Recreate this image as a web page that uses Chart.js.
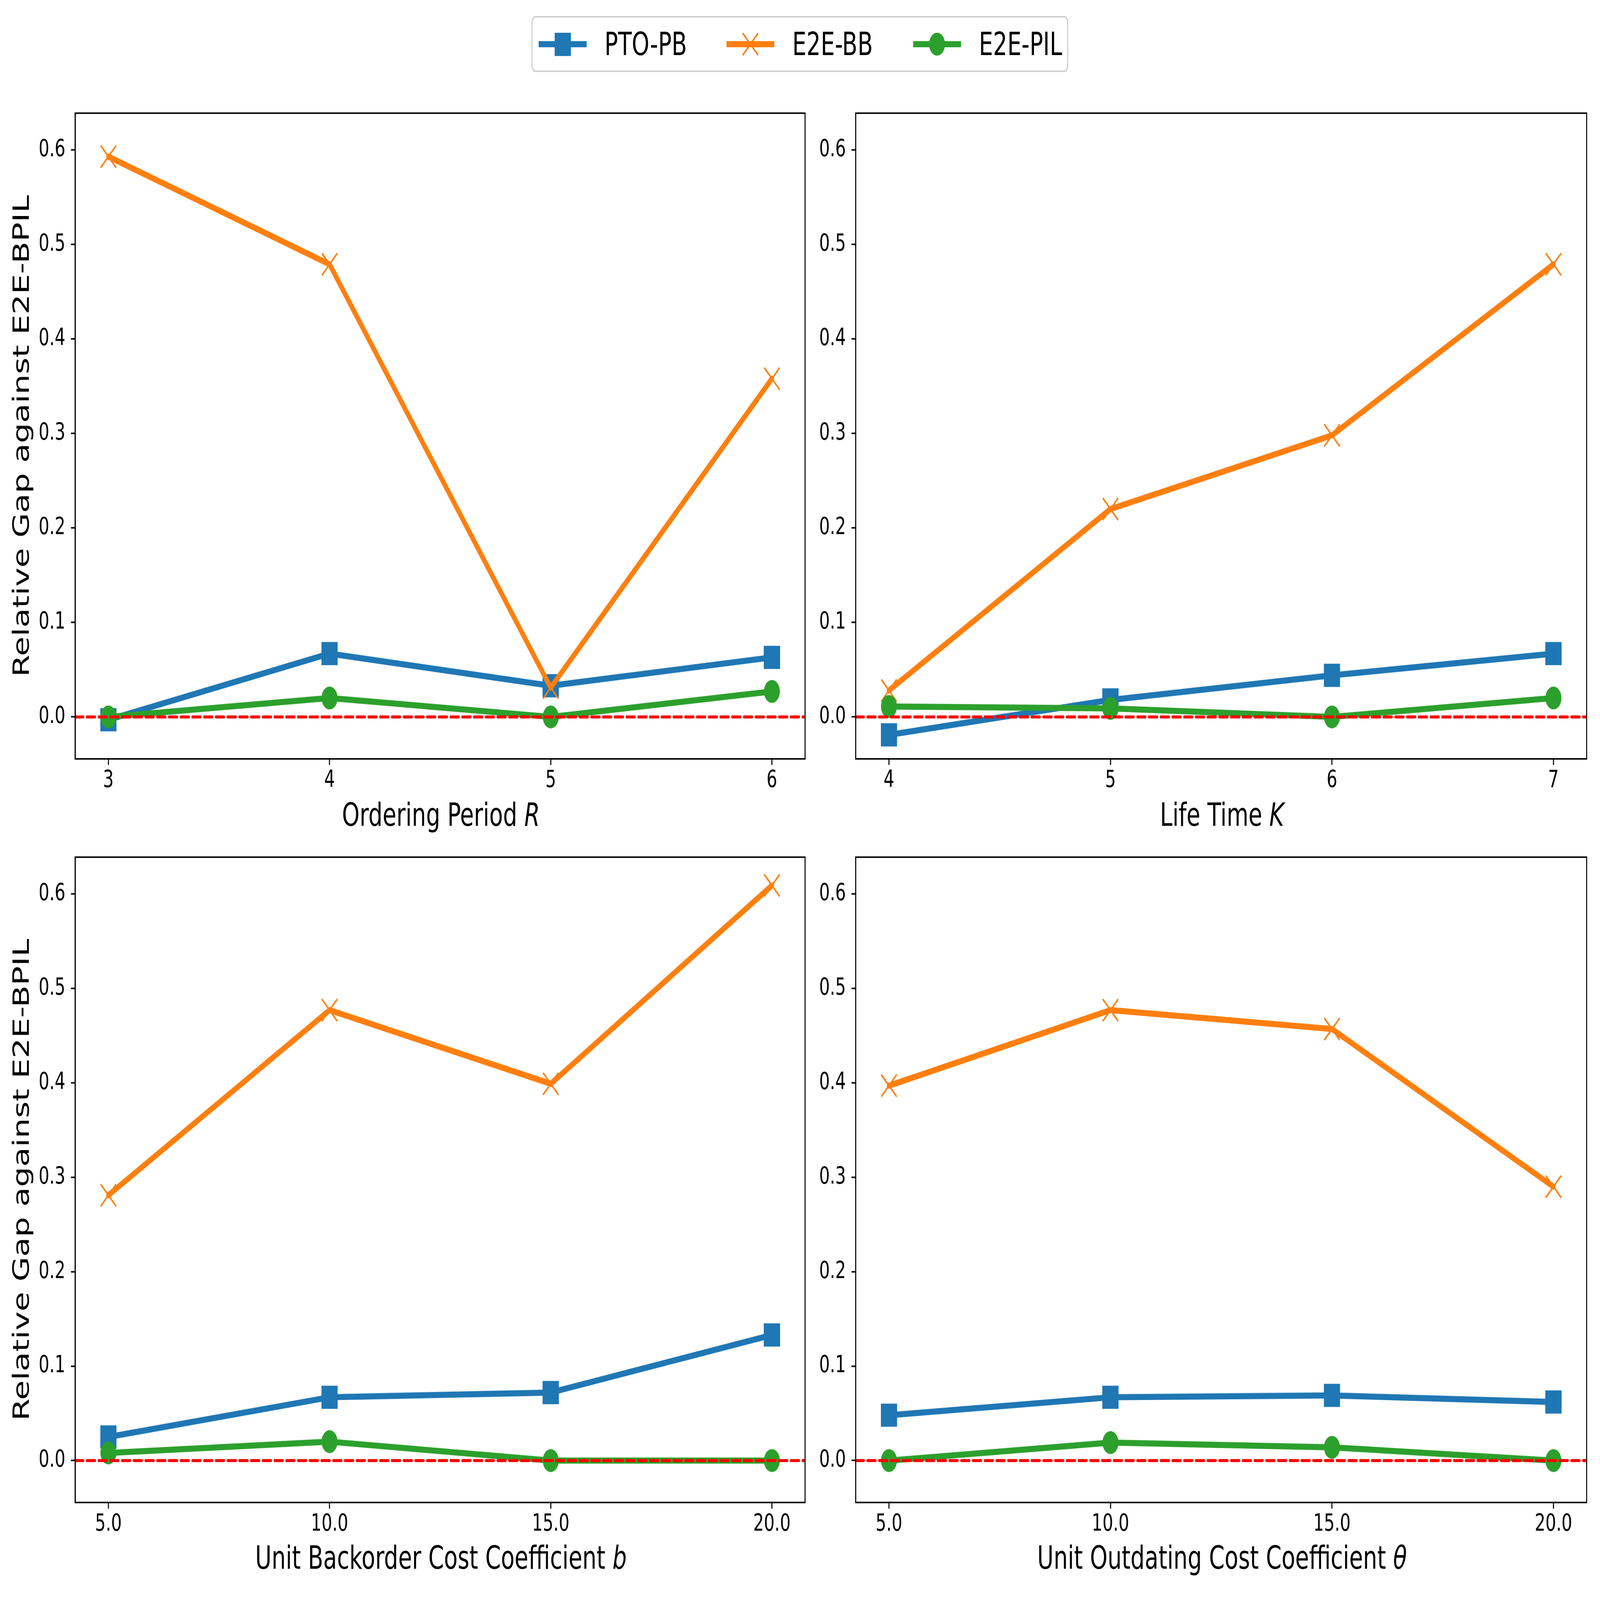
<!DOCTYPE html>
<html>
<head>
<meta charset="utf-8">
<script src="https://cdn.jsdelivr.net/npm/chart.js@4.4.1/dist/chart.umd.min.js"></script>
<style>
  body { margin: 0; background: #fff; overflow: hidden; }
  #page { position: relative; width: 6000px; height: 4200px; background: #fff; font-family: "DejaVu Sans"; color: #000; transform-origin: 0 0; }
  canvas { position: absolute; }
  .xtitle { position: absolute; font-size: 84px; line-height: 84px; text-align: center; white-space: nowrap; }
  #legend { position: absolute; left: 1993px; top: 42px; width: 2005px; height: 139px;
            border: 4px solid #cccccc; border-radius: 16px; background: #fff; }
  .item { position: absolute; top: 0; height: 139px; display: flex; align-items: center; font-size: 84px; white-space: nowrap; }
  .item svg { margin-right: 67px; }
</style>
</head>
<body>
<div id="page">
  <div id="legend">
    <div class="item" style="left:23px">
      <svg width="180" height="70"><line x1="0" y1="35" x2="180" y2="35" stroke="#1f77b4" stroke-width="16"/><rect x="60" y="5" width="61" height="61" fill="#1f77b4"/></svg>PTO-PB
    </div>
    <div class="item" style="left:727px">
      <svg width="180" height="70"><line x1="0" y1="35" x2="180" y2="35" stroke="#ff7f0e" stroke-width="16"/><line x1="61" y1="6" x2="119" y2="64" stroke="#ff7f0e" stroke-width="5"/><line x1="119" y1="6" x2="61" y2="64" stroke="#ff7f0e" stroke-width="5"/></svg>E2E-BB
    </div>
    <div class="item" style="left:1427px">
      <svg width="180" height="70"><line x1="0" y1="35" x2="180" y2="35" stroke="#2ca02c" stroke-width="16"/><circle cx="90" cy="35" r="30" fill="#2ca02c"/></svg>E2E-PIL
    </div>
  </div>

  <canvas id="cR" width="3065" height="1895" style="left:0px;top:237px"></canvas>
  <canvas id="cK" width="2987" height="1895" style="left:3009px;top:237px"></canvas>
  <canvas id="cB" width="3065" height="1894" style="left:0px;top:2190px"></canvas>
  <canvas id="cT" width="2987" height="1894" style="left:3009px;top:2190px"></canvas>

  <div class="xtitle" style="left:282px;width:2743px;top:2097px">Ordering Period <i>R</i></div>
  <div class="xtitle" style="left:3209px;width:2747px;top:2097px">Life Time <i>K</i></div>
  <div class="xtitle" style="left:282px;width:2743px;top:4047px">Unit Backorder Cost Coefficient <i>b</i></div>
  <div class="xtitle" style="left:3209px;width:2747px;top:4047px">Unit Outdating Cost Coefficient <i>θ</i></div>
</div>

<script>
// x values of each panel
const xR = [3, 4, 5, 6];
const xK = [4, 5, 6, 7];
const xB = [5, 10, 15, 20];
const xTheta = [5, 10, 15, 20];

// ordering period R
const ptoR = [-0.003, 0.067, 0.033, 0.063];
const bbR = [0.593, 0.479, 0.031, 0.358];
const pilR = [0.0, 0.020, 0.0, 0.027];

// life time K
const ptoK = [-0.019, 0.018, 0.044, 0.067];
const bbK = [0.028, 0.220, 0.298, 0.479];
const pilK = [0.011, 0.009, 0.0, 0.020];

// backorder cost b
const ptoB = [0.025, 0.067, 0.072, 0.133];
const bbB = [0.281, 0.477, 0.399, 0.609];
const pilB = [0.008, 0.020, 0.0, 0.0];

// outdating cost theta
const ptoT = [0.048, 0.067, 0.069, 0.062];
const bbT = [0.397, 0.477, 0.457, 0.290];
const pilT = [0.0, 0.019, 0.014, 0.0];

const yTicks = [0.0, 0.1, 0.2, 0.3, 0.4, 0.5, 0.6];
const yLabel = "Relative Gap against E2E-BPIL";

const BLUE = "#1f77b4";
const ORANGE = "#ff7f0e";
const GREEN = "#2ca02c";
const FONT = "DejaVu Sans";

// the browser may give a smaller viewport than 6000x4200, so stretch the page onto it
const page = document.getElementById("page");
const sx = window.innerWidth / 6000;
const sy = window.innerHeight / 4200;
if (Math.abs(sx - 1) > 0.001 || Math.abs(sy - 1) > 0.001) {
    page.style.transform = `scale(${sx}, ${sy})`;
}

const boxPlugin = {
    id: "box",
    afterDatasetsDraw(chart) {
        const { ctx, chartArea: a } = chart;
        ctx.save();
        ctx.strokeStyle = "#000";
        ctx.lineWidth = 4;
        ctx.strokeRect(a.left, a.top, a.right - a.left, a.bottom - a.top);
        ctx.restore();
    },
};

function pts(xs, ys) {
    return xs.map((x, i) => ({ x: x, y: ys[i] }));
}

function makeChart(id, xs, pto, bb, pil, xMin, xMax, decimals, showTitle, yWidth) {
    const axisGrid = {
        display: true,
        drawOnChartArea: false,
        drawTicks: true,
        tickLength: 16,
        tickWidth: 4,
        tickColor: "#000",
        color: "#000",
    };
    return new Chart(document.getElementById(id), {
        type: "line",
        data: {
            datasets: [
                {
                    label: "zero",
                    data: [{ x: xMin, y: 0 }, { x: xMax, y: 0 }],
                    borderColor: "#ff0000",
                    borderWidth: 8,
                    borderDash: [30, 14],
                    pointRadius: 0,
                    order: 0,
                },
                {
                    label: "E2E-PIL",
                    data: pts(xs, pil),
                    borderColor: GREEN,
                    backgroundColor: GREEN,
                    borderWidth: 16,
                    pointStyle: "circle",
                    pointRadius: 30,
                    pointBorderWidth: 0,
                    order: 1,
                },
                {
                    label: "E2E-BB",
                    data: pts(xs, bb),
                    borderColor: ORANGE,
                    backgroundColor: ORANGE,
                    borderWidth: 16,
                    pointStyle: "crossRot",
                    pointRadius: 41,
                    pointBorderWidth: 5,
                    order: 2,
                },
                {
                    label: "PTO-PB",
                    data: pts(xs, pto),
                    borderColor: BLUE,
                    backgroundColor: BLUE,
                    borderWidth: 16,
                    pointStyle: "rect",
                    pointRadius: 43,
                    pointBorderWidth: 0,
                    order: 3,
                },
            ],
        },
        options: {
            responsive: false,
            animation: false,
            devicePixelRatio: 1,
            layout: { padding: { top: 60, right: 40, left: 0, bottom: 0 } },
            plugins: { legend: { display: false }, tooltip: { enabled: false } },
            elements: { line: { tension: 0, borderJoinStyle: "round", borderCapStyle: "round" } },
            scales: {
                x: {
                    type: "linear",
                    min: xMin,
                    max: xMax,
                    afterBuildTicks: (s) => { s.ticks = xs.map((v) => ({ value: v })); },
                    afterFit: (s) => { s.height = 140; },
                    ticks: {
                        callback: (v) => Number(v).toFixed(decimals),
                        font: { family: FONT, size: 63 },
                        color: "#000",
                        padding: 4,
                        maxRotation: 0,
                        autoSkip: false,
                    },
                    grid: axisGrid,
                    border: { display: true, color: "#000", width: 4 },
                },
                y: {
                    type: "linear",
                    min: -0.0444,
                    max: 0.639,
                    afterBuildTicks: (s) => { s.ticks = yTicks.map((v) => ({ value: v })); },
                    afterFit: (s) => { s.width = yWidth; },
                    ticks: {
                        callback: (v) => Number(v).toFixed(1),
                        font: { family: FONT, size: 63 },
                        color: "#000",
                        padding: 21,
                    },
                    grid: axisGrid,
                    border: { display: true, color: "#000", width: 4 },
                    title: {
                        display: showTitle,
                        text: yLabel,
                        font: { family: FONT, size: 84 },
                        color: "#000",
                        padding: { top: 36, bottom: 0 },
                    },
                },
            },
        },
        plugins: [boxPlugin],
    });
}

makeChart("cR", xR, ptoR, bbR, pilR, 2.85, 6.15, 0, true, 282);
makeChart("cK", xK, ptoK, bbK, pilK, 3.85, 7.15, 0, false, 200);
makeChart("cB", xB, ptoB, bbB, pilB, 4.25, 20.75, 1, true, 282);
makeChart("cT", xTheta, ptoT, bbT, pilT, 4.25, 20.75, 1, false, 200);
</script>
</body>
</html>
